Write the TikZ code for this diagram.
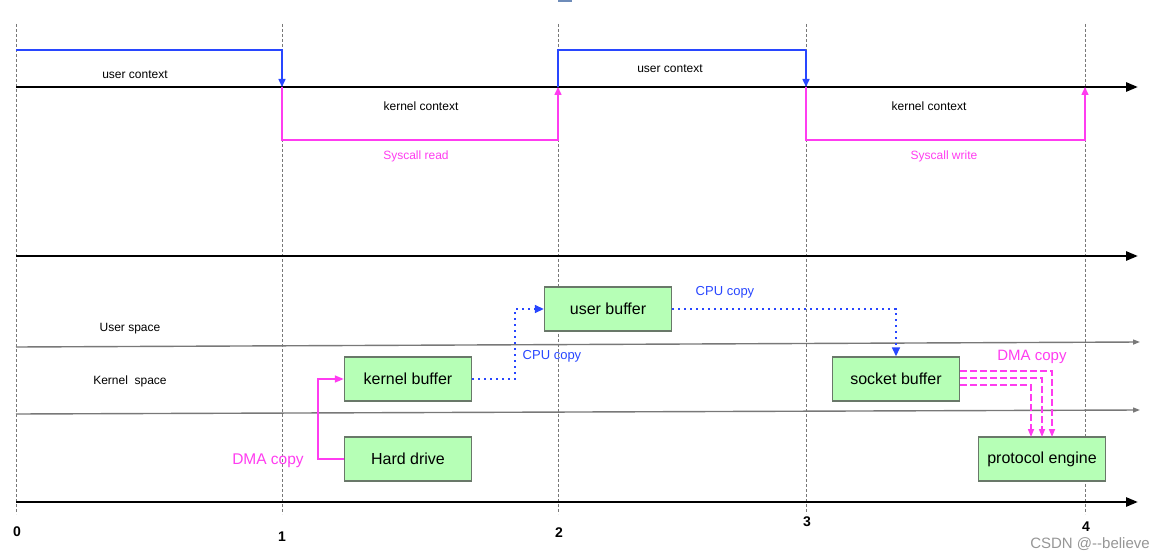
\documentclass[tikz,border=0pt]{standalone}
\usepackage{fontspec}
\setmainfont{Liberation Sans}
\usetikzlibrary{arrows.meta}
\definecolor{blu}{RGB}{40,70,255}
\definecolor{mag}{RGB}{255,60,240}
\definecolor{boxg}{RGB}{182,255,182}
\definecolor{boxb}{RGB}{105,120,105}
\definecolor{grid}{RGB}{120,120,120}
\definecolor{wm}{RGB}{150,150,150}
\begin{document}
\begin{tikzpicture}[x=1pt,y=-1pt,
  fs/.style={font=\fontsize{#1}{#1}\selectfont},
  guide/.style={grid,line width=0.9pt,dash pattern=on 3pt off 2pt},
  axis/.style={black,line width=2.6pt,-{Triangle[length=12pt,width=9pt]}},
  thinaxis/.style={grid,line width=1.4pt,-{Triangle[length=7pt,width=5pt]}},
  bluline/.style={blu,line width=1.5pt},
  magline/.style={mag,line width=1.5pt},
  tipb/.style={-{Triangle[length=8pt,width=7pt]}},
  buf/.style={draw=boxb,fill=boxg,line width=1.4pt,minimum width=127pt,minimum height=44pt,fs=16,inner sep=0pt},
  small/.style={fs=12},
  num/.style={font=\fontsize{14}{14}\selectfont\bfseries},
  cpu/.style={blu,line width=1.6pt,dash pattern=on 2pt off 4pt},
  dma/.style={mag,line width=1.6pt,dash pattern=on 7pt off 3pt},
]
\useasboundingbox (0,0) rectangle (1157,559);
\fill[fill={rgb,255:red,110;green,140;blue,185}] (558,0) rectangle (572,2.5);

% time guides
\foreach \n/\x in {0/16,1/282,2/558,3/806,4/1085}{
  \coordinate (g\n t) at (\x,24);
  \coordinate (g\n b) at (\x,514);
  \draw[guide] (g\n t) -- (g\n b);
}
\node[num] (n0) at (17,532) {0};
\node[num] (n1) at (282,537) {1};
\node[num] (n2) at (559,533) {2};
\node[num] (n3) at (807,522) {3};
\node[num] (n4) at (1086,527) {4};

% axes
\coordinate (a1s) at (16,87);  \coordinate (a1e) at (1138,87);
\coordinate (a2s) at (16,256); \coordinate (a2e) at (1138,256);
\coordinate (a3s) at (16,502); \coordinate (a3e) at (1138,502);
\coordinate (l1s) at (16,347); \coordinate (l1e) at (1140,342);
\coordinate (l2s) at (16,414); \coordinate (l2e) at (1140,410);
\draw[axis] (a1s) -- (a1e);
\draw[axis] (a2s) -- (a2e);
\draw[axis] (a3s) -- (a3e);
\draw[thinaxis] (l1s) -- (l1e);
\draw[thinaxis] (l2s) -- (l2e);

% context switches
\coordinate (u0) at (16,50);
\coordinate (u1) at (282,50);  \coordinate (x1) at (282,87);
\coordinate (u2) at (558,50);  \coordinate (x2) at (558,87);
\coordinate (u3) at (806,50);  \coordinate (x3) at (806,87);
\coordinate (x4) at (1085,87);
\coordinate (k1) at (282,140); \coordinate (k2) at (558,140);
\coordinate (k3) at (806,140); \coordinate (k4) at (1085,140);
\draw[bluline,tipb] (u0) -- (u1) -- (x1);
\draw[bluline] (x2) -- (u2) -- (u3);
\draw[bluline,tipb] (u3) -- (x3);
\draw[magline,tipb] (x1) -- (k1) -- (k2) -- (x2);
\draw[magline,tipb] (x3) -- (k3) -- (k4) -- (x4);

\node[small] (uc1) at (135,75) {user context};
\node[small] (kc1) at (421,106) {kernel context};
\node[small,text=mag] (sr) at (416,156) {Syscall read};
\node[small] (uc2) at (670,69) {user context};
\node[small] (kc2) at (929,106) {kernel context};
\node[small,text=mag] (sw) at (944,156) {Syscall write};

\node[small] (us) at (130,329) {User space};
\node[small] (ks) at (130,381) {Kernel\ \ space};

% buffers
\node[buf] (kb) at (408,379) {kernel buffer};
\node[buf] (hd) at (408,459) {Hard drive};
\node[buf] (ub) at (608,309) {user buffer};
\node[buf] (sb) at (896,379) {socket buffer};
\node[buf] (pe) at (1042,459) {protocol engine};

% DMA copy left
\draw[magline,-{Triangle[length=9pt,width=7pt]}] (hd.west) -- (318,459) -- (318,379) -- (kb.west);
\node[fs=15.5,text=mag] (dma1) at (268,461) {DMA copy};

% CPU copy 1
\draw[cpu,-{Triangle[length=9pt,width=8pt]}] (kb.east) -- (515,379) -- (515,309) -- (ub.west);
\node[fs=13,text=blu] (cpu1) at (552,356) {CPU copy};

% CPU copy 2
\draw[cpu,-{Triangle[length=9pt,width=8pt]}] (ub.east) -- (896,309) -- (sb.north);
\node[fs=13,text=blu] (cpu2) at (725,292) {CPU copy};

% DMA copy right
\coordinate (d1) at (1052,437);
\coordinate (d2) at (1042,437);
\coordinate (d3) at (1031,437);
\draw[dma,-{Triangle[length=8pt,width=6pt]}] (sb.east |- 0,371) -- (1052,371) -- (d1);
\draw[dma,-{Triangle[length=8pt,width=6pt]}] (sb.east |- 0,378) -- (1042,378) -- (d2);
\draw[dma,-{Triangle[length=8pt,width=6pt]}] (sb.east |- 0,385) -- (1031,385) -- (d3);
\node[fs=15,text=mag] (dma2) at (1032,357) {DMA copy};

% watermark
\node[fs=15,text=wm] (wmk) at (1090,544) {CSDN @{-}{-}believe};
\end{tikzpicture}
\end{document}
